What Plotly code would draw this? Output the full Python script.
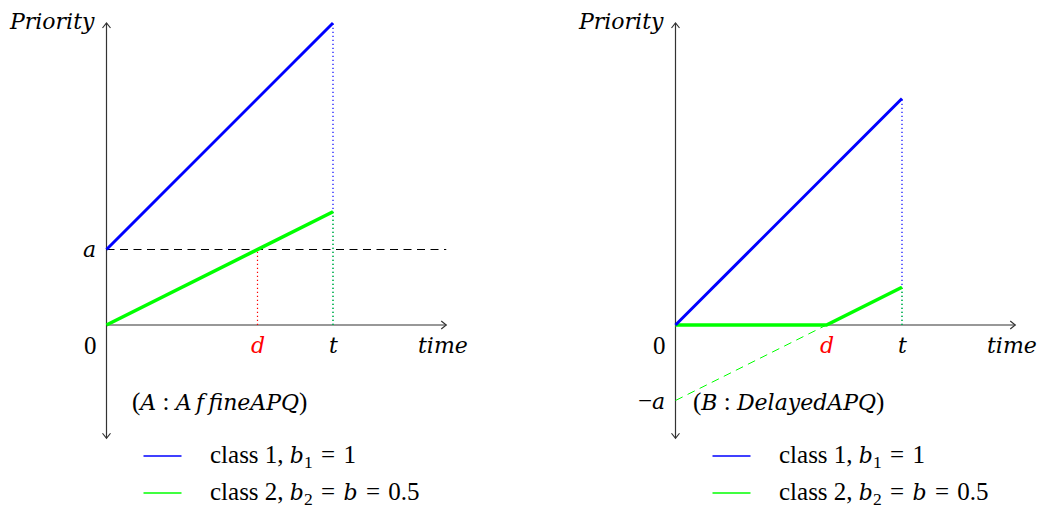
import plotly.graph_objects as go

# ---- values -------------------------------------------------------------
a = 1.0          # class-1 offset / class-2 delay threshold
b1 = 1.0         # slope of class 1
b2 = 0.5         # slope of class 2 (b)
t = 3.0          # observation time
d = a / b2       # crossing / delay instant

time_pts = [0.0, t]
A_class1 = [a, a + b1 * t]          # affine: a + b1*time
A_class2 = [0.0, b2 * t]            # affine: b2*time

B_time = [0.0, d, t]
B_class1 = [0.0, b1 * d, b1 * t]    # delayed: b1*time
B_class2 = [0.0, 0.0, b2 * (t - d)] # delayed: zero until d, then slope b2
B_virtual_x = [0.0, d]
B_virtual_y = [-a, 0.0]

x_axis_end = 4.5
y_axis_top = 4.0
y_axis_bottom = -1.5

FONT = "Liberation Serif"
FS = 25          # upright text size
FS_IT = 22       # italic (math) text size


def it(s):
    # math-style italic symbols
    return ('<span style="font-family:\'DejaVu Serif\';font-style:italic;'
            'font-size:%dpx">' % FS_IT + s + '</span>')


SP = "\u2004"  # spacing around relations
legend_labels = ["class 1, " + it("b") + "<sub>1</sub>" + SP + "=" + SP + "1",
                 "class 2, " + it("b") + "<sub>2</sub>" + SP + "=" + SP + it("b")
                 + SP + "=" + SP + "0.5"]
panel_titles = ["(" + it("A") + " : " + it("A\u2009f\u2009fineAPQ") + ")",
                "(" + it("B") + " : " + it("DelayedAPQ") + ")"]

BLUE = "#0000ff"
GREEN = "#00ff00"
RED = "#ff0000"
AXIS = "#333333"

# ---- geometry -----------------------------------------------------------
W_FIG, H_FIG = 1038, 508
U = 75.5                  # pixels per unit on both axes
PANEL_W = 469             # pixel width of each panel
OX, OY = 106.5, 325       # origin inside a panel (px from left / top)
PANEL_LEFT = [0, 569]


def px(v):
    return v / U


fig = go.Figure()


def add_line(xs, ys, color, width, dash="solid", ax=1):
    fig.add_trace(go.Scatter(
        x=xs, y=ys, mode="lines",
        line=dict(color=color, width=width, dash=dash),
        xaxis="x" if ax == 1 else "x2", yaxis="y" if ax == 1 else "y2",
        hoverinfo="skip", showlegend=False, cliponaxis=False))


def add_text(x, y, text, ax=1, color="black", xanchor="center", size=FS):
    fig.add_annotation(
        x=x, y=y, text=text, showarrow=False,
        xref="x" if ax == 1 else "x2", yref="y" if ax == 1 else "y2",
        xanchor=xanchor, yanchor="middle",
        font=dict(family=FONT, size=size, color=color))


def draw_axes(ax):
    add_line([0, x_axis_end], [0, 0], AXIS, 1.2, ax=ax)
    add_line([0, 0], [y_axis_bottom, y_axis_top], AXIS, 1.2, ax=ax)
    back, half = px(5), px(4)
    add_line([x_axis_end - back, x_axis_end, x_axis_end - back],
             [half, 0, -half], AXIS, 1.2, ax=ax)
    add_line([-half, 0, half],
             [y_axis_top - back, y_axis_top, y_axis_top - back], AXIS, 1.2, ax=ax)
    add_line([-half, 0, half],
             [y_axis_bottom + back, y_axis_bottom, y_axis_bottom + back],
             AXIS, 1.2, ax=ax)


DOT = "1.3px,2.7px"
DASH = "8px,5.5px"

# ---- panel A: affine ----------------------------------------------------
draw_axes(1)
add_line([0, x_axis_end], [a, a], "black", 1, DASH, ax=1)
add_line([d, d], [0, a], RED, 1.2, DOT, ax=1)
add_line([t, t], [0, A_class1[-1]], BLUE, 1.2, DOT, ax=1)
add_line([t, t], [0, A_class2[-1]], GREEN, 1.2, DOT, ax=1)
add_line(time_pts, A_class2, GREEN, 3.5, ax=1)
add_line(time_pts, A_class1, BLUE, 3, ax=1)

# ---- panel B: delayed ---------------------------------------------------
draw_axes(2)
add_line([t, t], [0, B_class1[-1]], BLUE, 1.2, DOT, ax=2)
add_line([t, t], [0, B_class2[-1]], GREEN, 1.2, DOT, ax=2)
add_line(B_virtual_x, B_virtual_y, GREEN, 1, DASH, ax=2)
add_line(B_time, B_class2, GREEN, 3.5, ax=2)
add_line(B_time, B_class1, BLUE, 3, ax=2)

# ---- labels -------------------------------------------------------------
lab_y = px(-20)
for ax in (1, 2):
    add_text(px(-10), px(304), it("Priority"), ax=ax, xanchor="right")
    add_text(px(-16.5), lab_y, "0", ax=ax)
    add_text(d, lab_y, it("d"), ax=ax, color=RED)
    add_text(t, lab_y, it("t"), ax=ax)
    add_text(px(336), lab_y, it("time"), ax=ax)
    add_text(1.5, -1.02, panel_titles[ax - 1], ax=ax)
    # legend
    for i, (lbl, col) in enumerate(zip(legend_labels, [BLUE, GREEN])):
        yy = px(325 - 456 - 37 * i)
        fig.add_shape(type="line", x0=px(37), x1=px(75), y0=yy, y1=yy,
                      xref="x" if ax == 1 else "x2",
                      yref="y" if ax == 1 else "y2",
                      line=dict(color=col, width=1.6))
        add_text(px(101), yy, lbl, ax=ax, xanchor="left")

add_text(px(-17), a, it("a"), ax=1)
add_text(px(-24), -a, "\u2212" + it("a"), ax=2)

# ---- layout -------------------------------------------------------------
xr = [-px(OX), px(PANEL_W - OX)]
yr = [-px(H_FIG - OY), px(OY)]
hidden = dict(visible=False, showgrid=False, zeroline=False, fixedrange=True)

fig.update_layout(
    width=W_FIG, height=H_FIG,
    margin=dict(l=0, r=0, t=0, b=0),
    paper_bgcolor="white", plot_bgcolor="white",
    showlegend=False,
    xaxis=dict(domain=[PANEL_LEFT[0] / W_FIG, (PANEL_LEFT[0] + PANEL_W) / W_FIG],
               range=xr, **hidden),
    yaxis=dict(domain=[0, 1], range=yr, **hidden),
    xaxis2=dict(domain=[PANEL_LEFT[1] / W_FIG, (PANEL_LEFT[1] + PANEL_W) / W_FIG],
                range=xr, anchor="y2", **hidden),
    yaxis2=dict(domain=[0, 1], range=yr, anchor="x2", **hidden),
)

fig.write_html("out.html")
